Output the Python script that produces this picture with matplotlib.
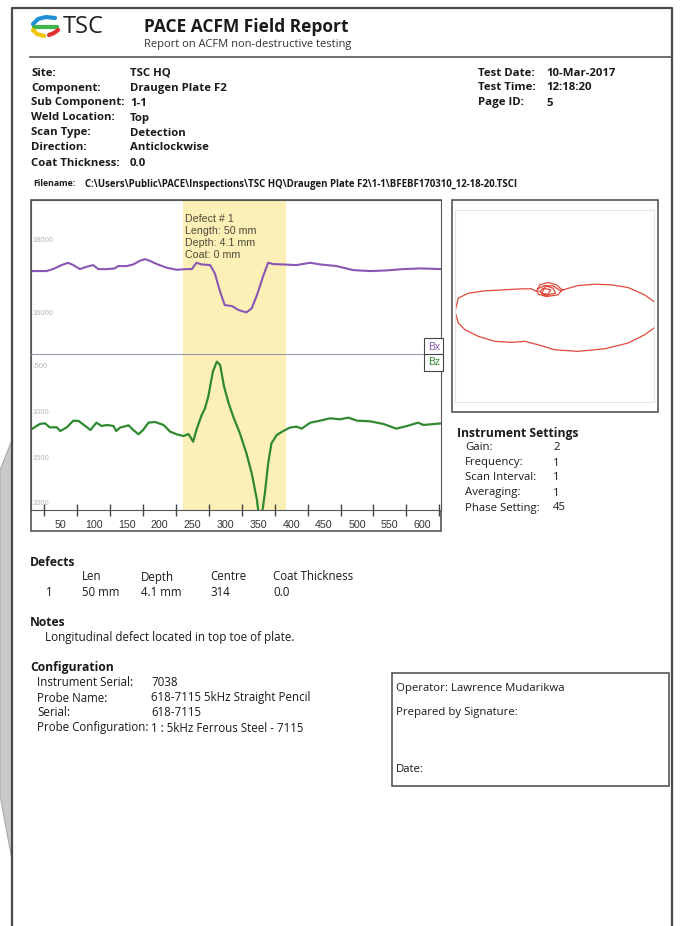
import numpy as np
import matplotlib.pyplot as plt
from matplotlib.patches import Rectangle, Polygon

plt.rcParams['font.family'] = ['Open Sans', 'DejaVu Sans']

# ---- data ----
bx_pos = [5, 28, 38, 51, 61, 69, 79, 89, 99, 107, 120, 132, 137, 150, 160, 170, 178, 185,
          196, 211, 226, 241, 249, 256, 264, 277, 284, 292, 299, 310, 320, 332, 340, 348,
          358, 365, 373, 388, 408, 429, 444, 469, 494, 520, 545, 570, 596, 629]
bx_val = [17151, 17151, 17205, 17315, 17379, 17315, 17205, 17269, 17315, 17205, 17205, 17224,
          17288, 17288, 17333, 17434, 17479, 17434, 17342, 17242, 17187, 17205, 17205, 17379,
          17333, 17315, 17087, 16584, 16219, 16192, 16082, 16018, 16128, 16493, 17041, 17379,
          17342, 17333, 17315, 17379, 17333, 17288, 17178, 17151, 17169, 17205, 17224, 17205]

bz_pos = [5, 18, 26, 33, 44, 49, 59, 69, 77, 87, 95, 104, 112, 120, 130, 134, 140, 153, 160,
          168, 175, 183, 193, 206, 216, 226, 236, 244, 251, 256, 264, 269, 274, 281, 287, 292,
          298, 305, 312, 322, 332, 340, 348, 353, 360, 365, 370, 378, 388, 398, 408, 416, 429,
          444, 459, 474, 487, 500, 520, 540, 560, 576, 593, 601, 629]
bz_val = [-1183, -1124, -1117, -1161, -1161, -1201, -1161, -1088, -1091, -1146, -1190, -1110,
          -1146, -1135, -1146, -1201, -1164, -1139, -1190, -1237, -1190, -1110, -1102, -1135,
          -1208, -1237, -1256, -1234, -1318, -1190, -1026, -953, -825, -551, -442, -478, -715,
          -898, -1044, -1226, -1445, -1664, -1956, -2250, -1883, -1555, -1336, -1245, -1201,
          -1164, -1153, -1175, -1110, -1088, -1062, -1073, -1055, -1088, -1095, -1124, -1175,
          -1146, -1110, -1135, -1117]

defect_start, defect_end = 235, 392
x_labels = [50, 100, 150, 200, 250, 300, 350, 400, 450, 500, 550, 600]
x_minor = [25, 75, 125, 175, 225, 275, 325, 375, 425, 475, 525, 575, 625]
bx_ticks = [18000, 16000]
bx_tick_labels = ['18000', '16000']
bz_ticks = [-500, -1000, -1500, -2000]
bz_tick_labels = ['-500', '1000', '1500', '2000']

# butterfly (Bz horizontal, Bx vertical), arbitrary units
loop_h = [83, 233, 400, 566, 733, 899, 992, 1099, 992, 899, 733, 500, 233, 0, -167, -300,
          -433, -599, -766, -899, -966, -999, -966, -866, -699, -500, -333, -233, -183, -150,
          -67, 17, 73, 33, -83, -167, -173, -100, -17, 7, -100, -150, -117, -40, -67, -133, -90,
          -20, 60, 83]
loop_v = [250, 293, 306, 300, 273, 200, 133, 33, -133, -200, -283, -340, -366, -350, -300,
          -266, -276, -266, -216, -150, -83, 33, 167, 216, 240, 250, 260, 260, 233, 300, 323,
          300, 250, 200, 183, 206, 260, 293, 266, 216, 193, 233, 266, 250, 206, 213, 290, 290,
          240, 250]

header_left = [('Site:', 'TSC HQ'), ('Component:', 'Draugen Plate F2'),
               ('Sub Component:', '1-1'), ('Weld Location:', 'Top'),
               ('Scan Type:', 'Detection'), ('Direction:', 'Anticlockwise'),
               ('Coat Thickness:', '0.0')]
header_right = [('Test Date:', '10-Mar-2017'), ('Test Time:', '12:18:20'), ('Page ID:', '5')]
settings = [('Gain:', '2'), ('Frequency:', '1'), ('Scan Interval:', '1'),
            ('Averaging:', '1'), ('Phase Setting:', '45')]
defect_cols = ['Len', 'Depth', 'Centre', 'Coat Thickness']
defect_row = ['1', '50 mm', '4.1 mm', '314', '0.0']
config = [('Instrument Serial:', '7038'), ('Probe Name:', '618-7115 5kHz Straight Pencil'),
          ('Serial:', '618-7115'), ('Probe Configuration:', '1 : 5kHz Ferrous Steel - 7115')]

W, H = 681, 926
fig = plt.figure(figsize=(W / 100, H / 100), dpi=100)
ink = '#1a1a1a'


def rect(x0, y0, x1, y1):
    return [x0 / W, 1 - y1 / H, (x1 - x0) / W, (y1 - y0) / H]


bg = fig.add_axes([0, 0, 1, 1])
bg.set_xlim(0, W)
bg.set_ylim(H, 0)
bg.axis('off')

# grey shape behind page, page frame
bg.add_patch(Polygon([(0, 470), (12, 440), (12, 860), (0, 795)], closed=True,
                     fc='#c9c9c9', ec='#aaaaaa', lw=0.8))
bg.plot([12, 12, 672, 672], [926, 8, 8, 926], color='#4a4a4a', lw=1.6)

# logo
bg.plot([33, 38, 46, 55], [24, 19, 17, 18], color='#1f8fd6', lw=3, solid_capstyle='round')
bg.plot([34, 57], [27, 27], color='#3fb44a', lw=3, solid_capstyle='round')
bg.plot([33, 37, 44], [30, 34, 36], color='#f2c500', lw=3, solid_capstyle='round')
bg.plot([49, 54, 58], [35, 33, 30], color='#e2312f', lw=3, solid_capstyle='round')
bg.text(63, 27, 'TSC', fontsize=17, color='#222222', va='center', ha='left')

bg.text(144, 27, 'PACE ACFM Field Report', fontsize=12.5, fontweight='bold',
        color=ink, va='center')
bg.text(144, 44, 'Report on ACFM non-destructive testing', fontsize=8, color='#333333',
        va='center')
bg.plot([30, 672], [57, 57], color='#555555', lw=1.2)

for i, (lab, val) in enumerate(header_left):
    y = 73 + 15 * i
    bg.text(31, y, lab, fontsize=8.2, fontweight='bold', va='center', color=ink)
    bg.text(130, y, val, fontsize=8.2, fontweight='bold', va='center', color=ink)
for i, (lab, val) in enumerate(header_right):
    y = 73 + 15 * i
    bg.text(478, y, lab, fontsize=8.2, fontweight='bold', va='center', color=ink)
    bg.text(546, y, val, fontsize=8.2, fontweight='bold', va='center', color=ink)

bg.text(33, 184, 'Filename:', fontsize=6.3, fontweight='bold', va='center', color=ink)
bg.text(85, 184, r'C:\Users\Public\PACE\Inspections\TSC HQ\Draugen Plate F2\1-1\BFEBF170310_12-18-20.TSCI',
        fontsize=6.9, fontweight='bold', va='center', color=ink)

# ---- Bx / Bz traces ----
purple = '#8a55b4'
green = '#2f8a2f'
frame = '#555555'
xlim = (4.6, 627.7)

bg.add_patch(Rectangle((31, 200), 410, 331, fill=False, ec=frame, lw=1.2))

ax_bx = fig.add_axes(rect(31, 200, 441, 355))
ax_bx.axvspan(defect_start, defect_end, color='#fcf0b6', lw=0)
ax_bx.plot(bx_pos, bx_val, color=purple, lw=1.5)
ax_bx.set_xlim(*xlim)
ax_bx.set_ylim(14850, 19100)
ax_bx.set_xticks([])
ax_bx.set_yticks([])
for s in ['left', 'top', 'right']:
    ax_bx.spines[s].set_color(frame)
ax_bx.spines['bottom'].set_color('#7d8ca3')
ax_bx.spines['bottom'].set_linewidth(2)
for v, t in zip(bx_ticks, bx_tick_labels):
    ax_bx.text(0.004, v, t, transform=ax_bx.get_yaxis_transform(), fontsize=5.5,
               color='#b5b5be', va='center', ha='left', family='Liberation Sans')
ax_bx.text(238.6, 18720, 'Defect # 1\nLength: 50 mm\nDepth: 4.1 mm\nCoat: 0 mm',
           fontsize=7.7, color='#4d4a3c', va='top', ha='left', family='Liberation Sans',
           linespacing=1.25)
ax_bx.text(0.997, 0.02, 'Bx', transform=ax_bx.transAxes, ha='right', va='bottom',
           fontsize=7.5, color=purple, family='Liberation Sans',
           bbox=dict(boxstyle='square,pad=0.35', fc='white', ec='#444444', lw=0.8))

ax_bz = fig.add_axes(rect(31, 355, 441, 510))
ax_bz.axvspan(defect_start, defect_end, color='#fcf0b6', lw=0)
ax_bz.plot(bz_pos, bz_val, color=green, lw=1.6)
ax_bz.set_xlim(*xlim)
ax_bz.set_ylim(-2066, -369)
ax_bz.set_yticks([])
ax_bz.spines['top'].set_visible(False)
for s in ['left', 'right', 'bottom']:
    ax_bz.spines[s].set_color(frame)
ax_bz.set_xticks(x_labels)
ax_bz.set_xticklabels([str(v) for v in x_labels], fontsize=7.7, color='#333333',
                      family='Liberation Sans')
ax_bz.set_xticks(x_minor, minor=True)
ax_bz.tick_params(axis='x', which='major', length=0, pad=7)
ax_bz.tick_params(axis='x', which='minor', length=9, direction='inout', color='#444444',
                  width=1)
for v, t in zip(bz_ticks, bz_tick_labels):
    ax_bz.text(0.004, v, t, transform=ax_bz.get_yaxis_transform(), fontsize=5.5,
               color='#b5b5be', va='center', ha='left', family='Liberation Sans')
ax_bz.text(0.997, 0.985, 'Bz', transform=ax_bz.transAxes, ha='right', va='top',
           fontsize=7.5, color=green, family='Liberation Sans',
           bbox=dict(boxstyle='square,pad=0.35', fc='white', ec='#444444', lw=0.8))

# ---- butterfly ----
bg.add_patch(Rectangle((452, 200), 206, 212, fill=False, ec=frame, lw=1.2))
ax_bf = fig.add_axes(rect(455, 210, 654, 402))
ax_bf.plot(loop_h, loop_v, color='#e04a3c', lw=0.9)
ax_bf.set_xlim(-999, 993)
ax_bf.set_ylim(-873, 1049)
ax_bf.set_xticks([])
ax_bf.set_yticks([])
for s in ax_bf.spines.values():
    s.set_color('#e6e6e6')
    s.set_linewidth(0.8)

# ---- instrument settings ----
bg.text(457, 433, 'Instrument Settings', fontsize=8.7, fontweight='bold', va='center',
        color=ink)
for i, (lab, val) in enumerate(settings):
    y = 448 + 15 * i
    bg.text(465, y, lab, fontsize=8.2, va='center', color=ink)
    bg.text(553, y, val, fontsize=8.2, va='center', color=ink)

# ---- defects / notes / configuration ----
bg.text(30, 563, 'Defects', fontsize=8.7, fontweight='bold', va='center', color=ink)
for x, t in zip([82, 141, 210, 273], defect_cols):
    bg.text(x, 577, t, fontsize=8.3, va='center', color=ink)
for x, t in zip([46, 82, 141, 210, 273], defect_row):
    bg.text(x, 592, t, fontsize=8.3, va='center', color=ink)

bg.text(30, 622, 'Notes', fontsize=8.7, fontweight='bold', va='center', color=ink)
bg.text(45, 638, 'Longitudinal defect located in top toe of plate.', fontsize=8.4,
        va='center', color=ink)

bg.text(30, 668, 'Configuration', fontsize=8.7, fontweight='bold', va='center', color=ink)
for i, (lab, val) in enumerate(config):
    y = 683 + 15 * i
    bg.text(37, y, lab, fontsize=8.3, va='center', color=ink)
    bg.text(151, y, val, fontsize=8.3, va='center', color=ink)

# ---- signature box ----
bg.add_patch(Rectangle((392, 673), 277, 113, fill=False, ec=frame, lw=1.2))
bg.text(396, 688, 'Operator: Lawrence Mudarikwa', fontsize=8.2, va='center', color=ink)
bg.text(396, 712, 'Prepared by Signature:', fontsize=8.2, va='center', color=ink)
bg.text(396, 770, 'Date:', fontsize=8.2, va='center', color=ink)

fig.savefig('out.png', dpi=100)
